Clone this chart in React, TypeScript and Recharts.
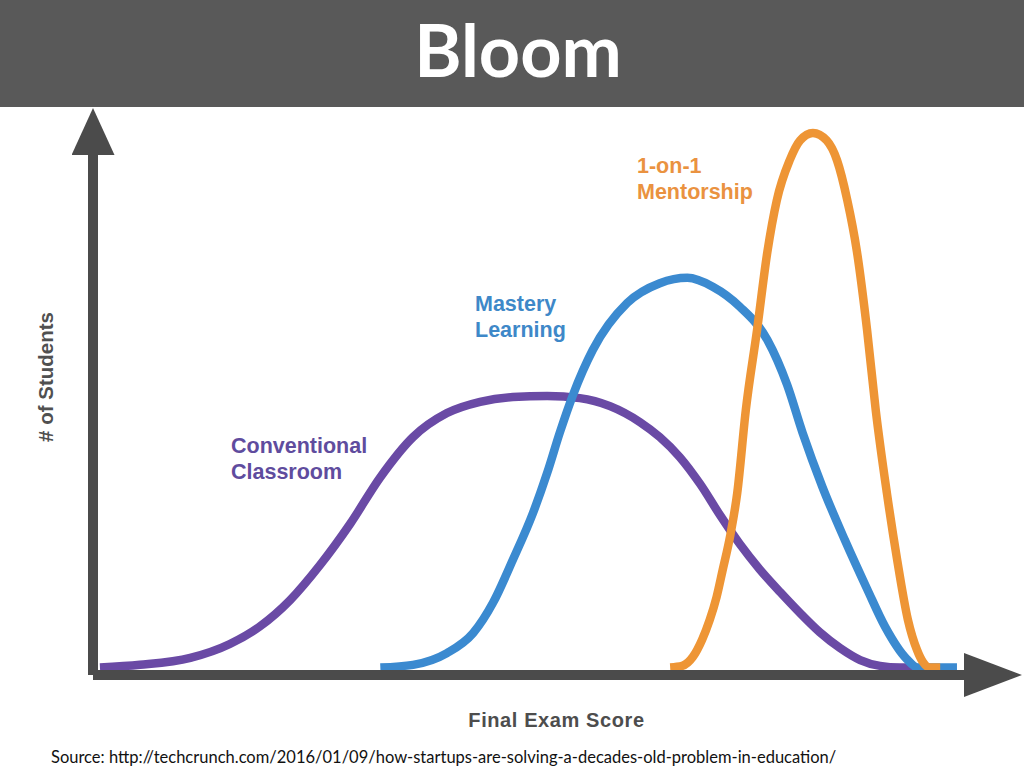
import { LineChart, Line, XAxis, YAxis } from "recharts";

/* ---------- curves (score 0-100, students 0-100 = tallest peak) ---------- */
const conventional = [
  { score: 0, students: 0 },
  { score: 4.65, students: 0.5 },
  { score: 10.5, students: 1.8 },
  { score: 15.1, students: 4.4 },
  { score: 18.6, students: 7.7 },
  { score: 22.1, students: 12.6 },
  { score: 25.6, students: 19.2 },
  { score: 29.1, students: 26.9 },
  { score: 32.6, students: 35.6 },
  { score: 36.4, students: 43.1 },
  { score: 40.35, students: 47.6 },
  { score: 44.2, students: 49.7 },
  { score: 48.0, students: 50.6 },
  { score: 52.0, students: 50.8 },
  { score: 55.8, students: 50.4 },
  { score: 59.3, students: 48.9 },
  { score: 62.8, students: 45.9 },
  { score: 65.1, students: 43.1 },
  { score: 67.4, students: 39.4 },
  { score: 69.8, students: 34.3 },
  { score: 72.1, students: 28.5 },
  { score: 74.4, students: 23.1 },
  { score: 76.7, students: 18.4 },
  { score: 79.1, students: 14.1 },
  { score: 81.4, students: 10.2 },
  { score: 83.7, students: 6.6 },
  { score: 86.05, students: 3.65 },
  { score: 88.4, students: 1.4 },
  { score: 90.7, students: 0.3 },
  { score: 93.0, students: 0 },
  { score: 95.0, students: 0 },
];

const mastery = [
  { score: 32.6, students: 0 },
  { score: 36.4, students: 0.5 },
  { score: 40.35, students: 2.7 },
  { score: 43.4, students: 6.45 },
  { score: 45.7, students: 12.1 },
  { score: 48.0, students: 20.1 },
  { score: 50.35, students: 28.9 },
  { score: 52.0, students: 36.4 },
  { score: 53.5, students: 44.1 },
  { score: 55.0, students: 51.0 },
  { score: 57.3, students: 59.4 },
  { score: 61.3, students: 68.2 },
  { score: 65.1, students: 71.9 },
  { score: 68.3, students: 72.9 },
  { score: 71.3, students: 71.2 },
  { score: 74.4, students: 67.5 },
  { score: 77.6, students: 61.3 },
  { score: 79.9, students: 52.9 },
  { score: 81.7, students: 43.9 },
  { score: 84.0, students: 33.8 },
  { score: 86.6, students: 23.9 },
  { score: 89.2, students: 14.7 },
  { score: 91.3, students: 7.6 },
  { score: 93.8, students: 1.6 },
  { score: 95.1, students: 0 },
  { score: 99.65, students: 0 },
];

const mentorship = [
  { score: 66.3, students: 0 },
  { score: 67.7, students: 0.3 },
  { score: 68.95, students: 2.0 },
  { score: 70.0, students: 5.15 },
  { score: 70.9, students: 8.9 },
  { score: 71.7, students: 13.2 },
  { score: 72.4, students: 18.2 },
  { score: 73.3, students: 24.8 },
  { score: 74.1, students: 32.65 },
  { score: 75.1, students: 48.2 },
  { score: 76.4, students: 63.1 },
  { score: 77.6, students: 77.7 },
  { score: 78.7, students: 87.4 },
  { score: 80.2, students: 94.9 },
  { score: 81.4, students: 98.6 },
  { score: 82.9, students: 100 },
  { score: 84.5, students: 98.6 },
  { score: 85.7, students: 94.9 },
  { score: 86.9, students: 87.4 },
  { score: 88.0, students: 78.0 },
  { score: 89.2, students: 63.1 },
  { score: 90.2, students: 48.2 },
  { score: 91.5, students: 32.65 },
  { score: 92.7, students: 20.1 },
  { score: 93.95, students: 8.9 },
  { score: 95.0, students: 3.3 },
  { score: 95.7, students: 1.0 },
  { score: 96.5, students: 0 },
  { score: 97.7, students: 0 },
];

const xDomain = [-0.81, 105.7];
const yDomain = [-1.4, 102.43];

const COLORS = {
  bar: "#595959",
  axis: "#4b4b4b",
  conventional: "#6a4aa5",
  mastery: "#3b8ad0",
  mentorship: "#ee9535",
};

const labelFont = "'Liberation Sans', Arial, sans-serif";

const seriesLabel = (left: number, top: number, color: string) =>
  ({
    position: "absolute",
    left,
    top,
    color,
    fontFamily: labelFont,
    fontWeight: 700,
    fontSize: 21.5,
    lineHeight: "26px",
    whiteSpace: "nowrap",
  }) as const;

export default function App() {
  return (
    <div
      style={{
        position: "absolute",
        left: 0,
        top: 0,
        width: 1024,
        height: 768,
        background: "#fff",
        overflow: "hidden",
      }}
    >
      {/* title bar */}
      <div
        style={{
          position: "absolute",
          left: 0,
          top: 0,
          width: 1024,
          height: 107,
          background: COLORS.bar,
        }}
      />
      <div
        style={{
          position: "absolute",
          left: 518,
          top: 13,
          transform: "translateX(-50%)",
          color: "#fff",
          fontFamily: "Lato, 'Open Sans', sans-serif",
          fontWeight: 700,
          fontSize: 72,
          lineHeight: "72px",
        }}
      >
        Bloom
      </div>

      <div style={{ position: "absolute", left: 0, top: 0 }}>
        <LineChart
          width={1024}
          height={768}
          margin={{ top: 120, right: 15, bottom: 92, left: 92 }}
        >
          <defs>
            <marker
              id="arrowX"
              markerUnits="userSpaceOnUse"
              markerWidth={58}
              markerHeight={44}
              refX={45}
              refY={22}
              orient="auto"
            >
              <path d="M0,0 L58,22 L0,44 Z" fill={COLORS.axis} />
            </marker>
            <marker
              id="arrowY"
              markerUnits="userSpaceOnUse"
              markerWidth={47}
              markerHeight={43}
              refX={35}
              refY={21.5}
              orient="auto-start-reverse"
            >
              <path d="M0,0 L47,21.5 L0,43 Z" fill={COLORS.axis} />
            </marker>
          </defs>
          <XAxis
            dataKey="score"
            type="number"
            domain={xDomain}
            allowDataOverflow
            height={1}
            tick={false}
            tickLine={false}
            axisLine={{
              stroke: COLORS.axis,
              strokeWidth: 10,
              markerEnd: "url(#arrowX)",
            }}
          />
          <YAxis
            type="number"
            domain={yDomain}
            allowDataOverflow
            width={1}
            tick={false}
            tickLine={false}
            axisLine={{
              stroke: COLORS.axis,
              strokeWidth: 10,
              markerStart: "url(#arrowY)",
            }}
          />
          <Line
            data={conventional}
            dataKey="students"
            type="monotone"
            stroke={COLORS.conventional}
            strokeWidth={8.5}
            dot={false}
            activeDot={false}
            isAnimationActive={false}
          />
          <Line
            data={mastery}
            dataKey="students"
            type="monotone"
            stroke={COLORS.mastery}
            strokeWidth={8.5}
            dot={false}
            activeDot={false}
            isAnimationActive={false}
          />
          <Line
            data={mentorship}
            dataKey="students"
            type="monotone"
            stroke={COLORS.mentorship}
            strokeWidth={8.5}
            dot={false}
            activeDot={false}
            isAnimationActive={false}
          />
        </LineChart>
      </div>

      {/* series labels */}
      <div style={seriesLabel(231, 433, "#5f4c9e")}>
        Conventional
        <br />
        Classroom
      </div>
      <div style={seriesLabel(475, 291, "#3e88c8")}>
        Mastery
        <br />
        Learning
      </div>
      <div style={seriesLabel(637, 153, "#ea9240")}>
        1-on-1
        <br />
        Mentorship
      </div>

      {/* axis titles */}
      <div
        style={{
          position: "absolute",
          left: 46,
          top: 377,
          transform: "translate(-50%, -50%) rotate(-90deg)",
          color: "#505050",
          fontFamily: labelFont,
          fontWeight: 700,
          fontSize: 20.5,
          lineHeight: "20.5px",
          whiteSpace: "nowrap",
        }}
      >
        # of Students
      </div>
      <div
        style={{
          position: "absolute",
          left: 556.5,
          top: 710,
          transform: "translateX(-50%)",
          color: "#4d4d4d",
          fontFamily: labelFont,
          fontWeight: 700,
          fontSize: 20,
          lineHeight: "20px",
          letterSpacing: 0.6,
          whiteSpace: "nowrap",
        }}
      >
        Final Exam Score
      </div>

      {/* source */}
      <div
        style={{
          position: "absolute",
          left: 51,
          top: 749,
          color: "#111",
          fontFamily: "Lato, sans-serif",
          fontSize: 16.5,
          lineHeight: "16px",
          whiteSpace: "nowrap",
        }}
      >
        Source: http://techcrunch.com/2016/01/09/how-startups-are-solving-a-decades-old-problem-in-education/
      </div>
    </div>
  );
}
